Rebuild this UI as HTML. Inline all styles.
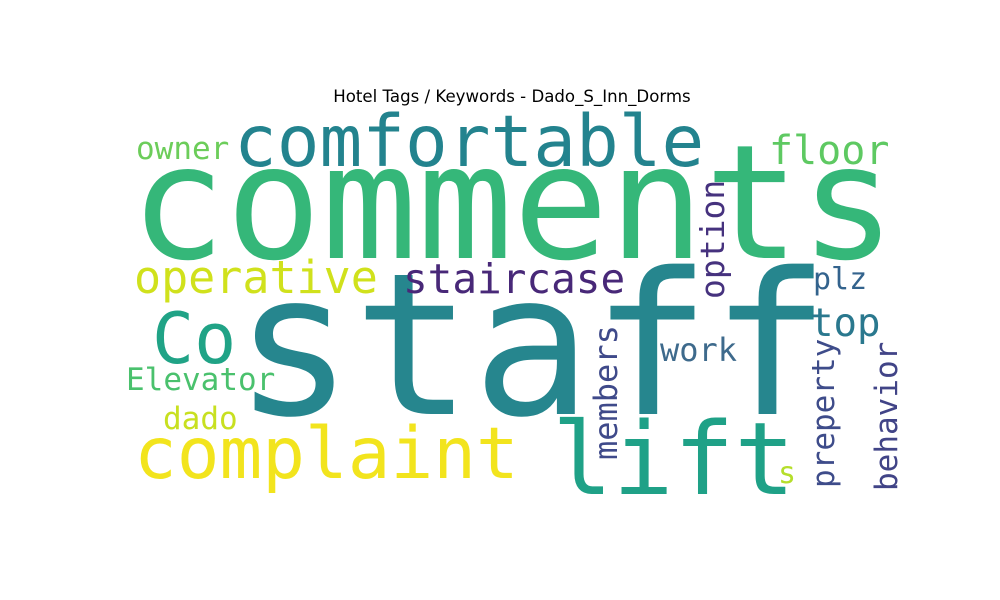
<!DOCTYPE html>
<html><head><meta charset="utf-8"><style>
html,body{margin:0;padding:0;background:#fff;}
svg{display:block;}
text{font-family:"DejaVu Sans Mono","Liberation Mono",monospace;}
</style></head>
<body>
<svg id="wc" width="1000" height="600" viewBox="0 0 1000 600" xmlns="http://www.w3.org/2000/svg">
<rect width="1000" height="600" fill="#ffffff"/>
<text x="512" y="102" text-anchor="middle" style="font-family:'DejaVu Sans','Liberation Sans',sans-serif" font-size="16.6" fill="#000">Hotel Tags / Keywords - Dado_S_Inn_Dorms</text>
<g id="words"></g>
</svg>
<script>
const words = ["comments","staff","comfortable","lift","complaint","operative","staircase","Co","owner","floor","option","plz","top","work","Elevator","dado","members","s","preperty","behavior"];
const sizes = [159,198,71,101,71,45,41,70,31,40,33,30,39,32,31,31,32,30,31,31];
const wordX = [130,234,234,552,134,134,403,152,136,769,724,813,810,660,126,163,617,778,834,897];
const wordY = [258,414,166,494,478,293,293,363,159,164,299,289,336,361,390,429,460,483,488,491];
const colors = ["#35b779","#26868e","#23838e","#1fa187","#f2e41d","#d0e11c","#482878","#20a386","#6ccd5a","#5ec962","#46327e","#33638d","#2a788e","#3e6a8c","#4ac16d","#c8e020","#3f4a8a","#b5de2b","#3e4c8a","#414487"];
const rotations = [0,0,0,0,0,0,0,0,0,0,-90,0,0,0,0,0,-90,0,-90,-90];
const g = document.getElementById('words');
const NS = 'http://www.w3.org/2000/svg';
for (let i = 0; i < words.length; i++) {
  const t = document.createElementNS(NS, 'text');
  
  
  t.setAttribute('font-size', sizes[i]);
  t.setAttribute('fill', colors[i]);
  if (rotations[i] !== 0) {
    t.setAttribute('transform', 'translate(' + wordX[i] + ',' + wordY[i] + ') rotate(' + rotations[i] + ')');
  } else {
    t.setAttribute('x', wordX[i]);
    t.setAttribute('y', wordY[i]);
  }
  t.textContent = words[i];
  g.appendChild(t);
}
</script>
</body></html>
